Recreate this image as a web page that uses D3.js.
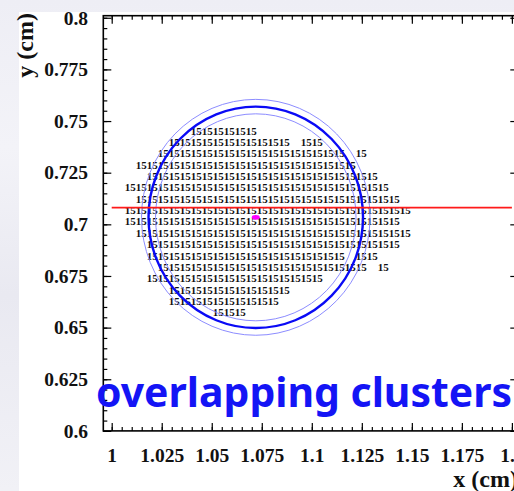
<!DOCTYPE html>
<html>
<head>
<meta charset="utf-8">
<script src="https://cdn.jsdelivr.net/npm/d3@7"></script>
<style>
  html, body { margin: 0; padding: 0; overflow: hidden; background: #ffffff; }
  svg { display: block; }
</style>
</head>
<body>
<svg id="chart" width="514" height="491"></svg>
<script>
// Axis ticks (cm)
const xMajorTicks = [1, 1.025, 1.05, 1.075, 1.1, 1.125, 1.15, 1.175, 1.2];
const xTickLabels = ["1", "1.025", "1.05", "1.075", "1.1", "1.125", "1.15", "1.175", "1.2"];
const yMajorTicks = [0.6, 0.625, 0.65, 0.675, 0.7, 0.725, 0.75, 0.775, 0.8];
const yTickLabels = ["0.6", "0.625", "0.65", "0.675", "0.7", "0.725", "0.75", "0.775", "0.8"];
const minorStep = 0.005;

// Pixel map: 55 um pitch, every fired pixel holds the value 15
const pixelPitch = 0.0055;
const hitValue = 15;
const hitRows = [135, 134, 133, 132, 131, 130, 129, 128, 127, 126, 125, 124, 123, 122, 121, 120, 119];
const hitRuns = [
  [[189, 194]],
  [[187, 197], [199, 200]],
  [[186, 202], [204, 204]],
  [[184, 203]],
  [[185, 205]],
  [[183, 206]],
  [[184, 207]],
  [[183, 208]],
  [[183, 207]],
  [[184, 208]],
  [[185, 207]],
  [[185, 202], [204, 205]],
  [[186, 204], [206, 206]],
  [[185, 200]],
  [[187, 197]],
  [[187, 196]],
  [[191, 193]]
];

// Fitted cluster centre and the rings around it (cm)
const clusterCentre = [1.0720, 0.7034];
const ringRadius = 0.0536;
const bandRadii = [0.0501, 0.0571];

// Horizontal cut line
const cutY = 0.7081;
const cutX = [1.0, 1.2];

const titleText = "overlapping clusters";

const svg = d3.select("#chart");
const W = 514, H = 491;

// Backdrop
const defs = svg.append("defs");
const grad = defs.append("linearGradient").attr("id", "bg").attr("x1", 0).attr("y1", 0).attr("x2", 0).attr("y2", 1);
grad.append("stop").attr("offset", "0").attr("stop-color", "#eeeef5");
grad.append("stop").attr("offset", "0.3").attr("stop-color", "#f3f3f8");
grad.append("stop").attr("offset", "0.6").attr("stop-color", "#e9e9f1");
grad.append("stop").attr("offset", "1").attr("stop-color", "#f1f1f6");
svg.append("rect").attr("width", W).attr("height", H).attr("fill", "url(#bg)");
svg.append("rect").attr("x", 19).attr("y", 12).attr("width", W - 19).attr("height", H - 12).attr("fill", "#ffffff");

// Scales
const x = d3.scaleLinear().domain([0.9958, 1.2032]).range([103.3, 518.3]);
const y = d3.scaleLinear().domain([0.6, 0.801]).range([430.9, 15.7]);

const x0 = x.range()[0], x1 = x.range()[1];
const y0 = y.range()[0], y1 = y.range()[1];

function minorTicks(lo, hi) {
  const out = [];
  const start = Math.ceil(lo / minorStep - 1e-9);
  for (let k = start; k * minorStep <= hi + 1e-9; k++) out.push(+(k * minorStep).toFixed(4));
  return out;
}
const xMinor = minorTicks(1.0, x.domain()[1]);
const yMinor = minorTicks(0.6, y.domain()[1]);

const labelFont = "'Liberation Serif', 'Times New Roman', serif";

// Pixel values drawn as text at each pixel centre
const hits = [];
hitRows.forEach((row, i) => {
  hitRuns[i].forEach(([a, b]) => {
    for (let col = a; col <= b; col++) {
      hits.push({ x: (col + 0.5) * pixelPitch, y: (row + 0.5) * pixelPitch, v: hitValue });
    }
  });
});

svg.append("g")
  .attr("font-family", labelFont)
  .attr("font-weight", "bold")
  .attr("font-size", 11)
  .attr("fill", "#111111")
  .attr("text-anchor", "middle")
  .selectAll("text")
  .data(hits)
  .join("text")
  .attr("x", d => x(d.x))
  .attr("y", d => y(d.y) + 3.7)
  .text(d => d.v);

// Rings
const cx = x(clusterCentre[0]), cy = y(clusterCentre[1]);
const ringG = svg.append("g").attr("fill", "none");
bandRadii.forEach(r => {
  ringG.append("ellipse")
    .attr("cx", cx).attr("cy", cy)
    .attr("rx", x(clusterCentre[0] + r) - cx)
    .attr("ry", cy - y(clusterCentre[1] + r))
    .attr("stroke", "#8c8cff").attr("stroke-width", 1);
});
ringG.append("ellipse")
  .attr("cx", cx).attr("cy", cy)
  .attr("rx", x(clusterCentre[0] + ringRadius) - cx)
  .attr("ry", cy - y(clusterCentre[1] + ringRadius))
  .attr("stroke", "#0a0af5").attr("stroke-width", 2.4);

// Cut line
svg.append("line")
  .attr("x1", x(cutX[0])).attr("x2", x(cutX[1]))
  .attr("y1", y(cutY)).attr("y2", y(cutY))
  .attr("stroke", "#ff1a1a").attr("stroke-width", 1.6);

// Centre marker
svg.append("ellipse")
  .attr("cx", cx).attr("cy", cy)
  .attr("rx", 4).attr("ry", 2.4)
  .attr("fill", "#ff00ff");

// Axes
function styleAxis(g) {
  g.select(".domain").remove();
  g.selectAll("line").attr("stroke", "#000").attr("stroke-width", 1.2);
  g.selectAll("text").attr("font-family", labelFont).attr("font-weight", "bold")
    .attr("font-size", 19.5).attr("fill", "#111");
}

svg.append("g").attr("transform", `translate(0,${y0})`)
  .call(d3.axisBottom(x).tickValues(xMinor).tickSize(-4).tickFormat(""))
  .call(styleAxis);
svg.append("g").attr("transform", `translate(0,${y0})`)
  .call(d3.axisBottom(x).tickValues(xMajorTicks).tickSize(-8).tickPadding(16.8)
    .tickFormat((d, i) => xTickLabels[i]))
  .call(styleAxis);
svg.append("g").attr("transform", `translate(0,${y1})`)
  .call(d3.axisTop(x).tickValues(xMinor).tickSize(-4).tickFormat(""))
  .call(styleAxis);
svg.append("g").attr("transform", `translate(0,${y1})`)
  .call(d3.axisTop(x).tickValues(xMajorTicks).tickSize(-8).tickFormat(""))
  .call(styleAxis);

svg.append("g").attr("transform", `translate(${x0},0)`)
  .call(d3.axisLeft(y).tickValues(yMinor).tickSize(-4).tickFormat(""))
  .call(styleAxis);
svg.append("g").attr("transform", `translate(${x0},0)`)
  .call(d3.axisLeft(y).tickValues(yMajorTicks).tickSize(-8).tickPadding(15.3)
    .tickFormat((d, i) => yTickLabels[i]))
  .call(styleAxis);
svg.append("g").attr("transform", `translate(${x1},0)`)
  .call(d3.axisRight(y).tickValues(yMinor).tickSize(-4).tickFormat(""))
  .call(styleAxis);
svg.append("g").attr("transform", `translate(${x1},0)`)
  .call(d3.axisRight(y).tickValues(yMajorTicks).tickSize(-8).tickFormat(""))
  .call(styleAxis);

// Frame
svg.append("rect")
  .attr("x", x0).attr("y", y1)
  .attr("width", x1 - x0).attr("height", y0 - y1)
  .attr("fill", "none").attr("stroke", "#000").attr("stroke-width", 1.6);

// Axis titles
svg.append("text")
  .attr("x", 518).attr("y", 487)
  .attr("text-anchor", "end")
  .attr("font-family", labelFont).attr("font-weight", "bold").attr("font-size", 24)
  .attr("fill", "#111")
  .text("x (cm)");
svg.append("text")
  .attr("transform", "translate(33,13) rotate(-90)")
  .attr("text-anchor", "end")
  .attr("font-family", labelFont).attr("font-weight", "bold").attr("font-size", 24)
  .attr("fill", "#111")
  .text("y (cm)");

// Caption
svg.append("text")
  .attr("x", 96).attr("y", 407)
  .attr("font-family", "'Noto Sans', 'Open Sans', 'DejaVu Sans', sans-serif")
  .attr("font-weight", "bold").attr("font-size", 41)
  .attr("fill", "#1414f5")
  .attr("textLength", 416).attr("lengthAdjust", "spacingAndGlyphs")
  .text(titleText);
</script>
</body>
</html>
